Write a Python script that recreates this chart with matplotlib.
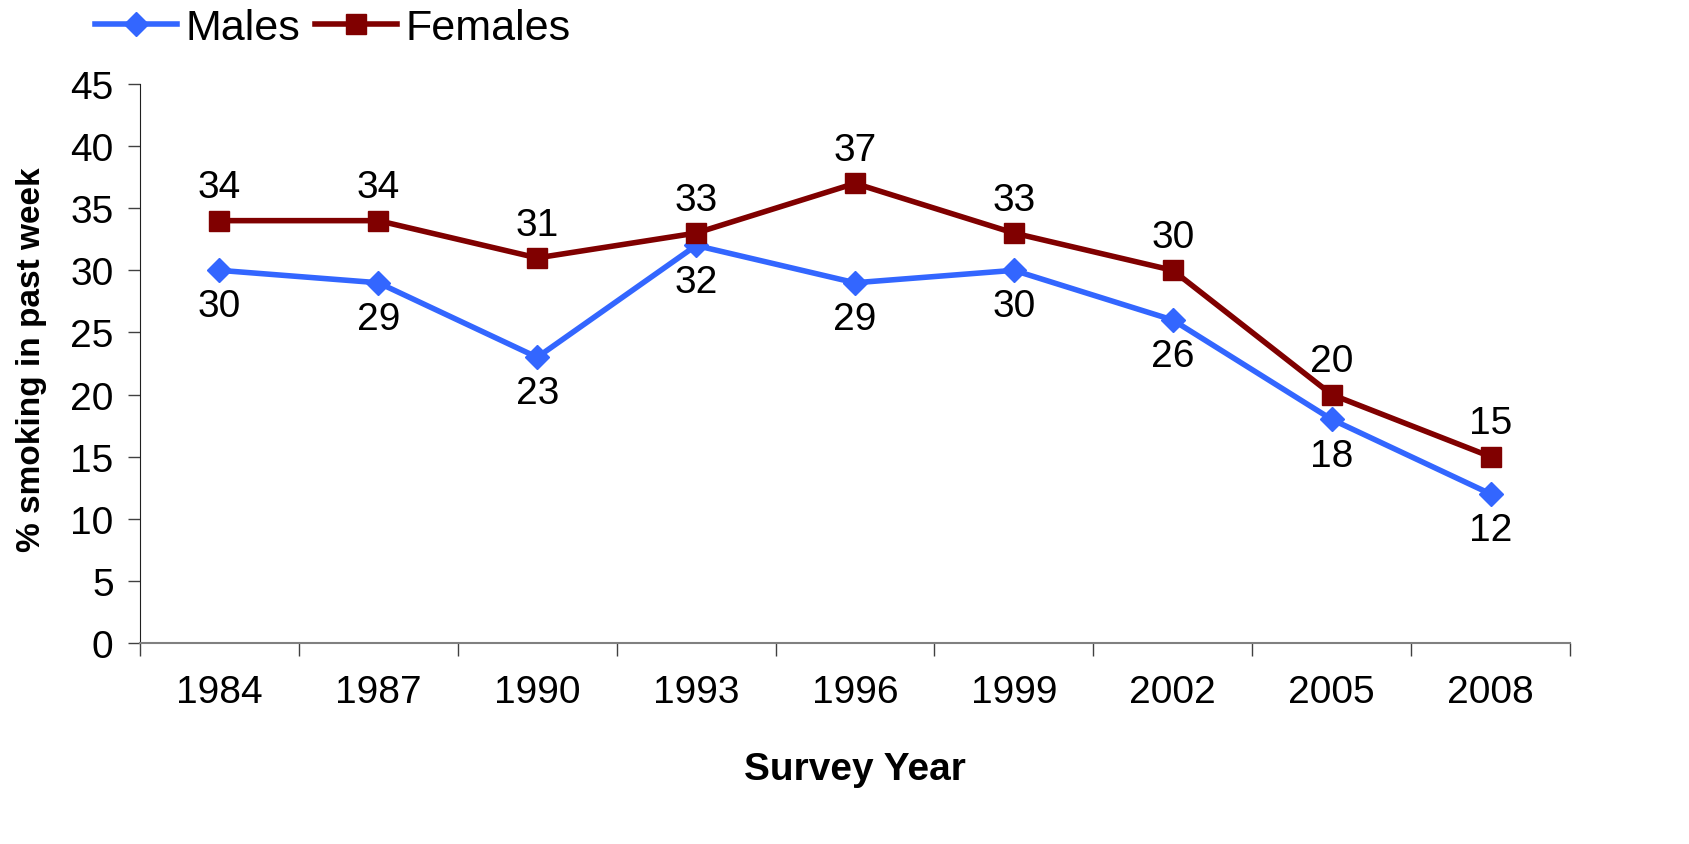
import matplotlib
matplotlib.use("Agg")
import matplotlib.pyplot as plt

years = ["1984", "1987", "1990", "1993", "1996", "1999", "2002", "2005", "2008"]
males = [30, 29, 23, 32, 29, 30, 26, 18, 12]
females = [34, 34, 31, 33, 37, 33, 30, 20, 15]

plt.rcParams['font.family'] = ['Liberation Sans', 'DejaVu Sans']
FS = 28

fig = plt.figure(figsize=(16.9, 8.45), dpi=100)
ax = fig.add_axes([140/1690, 1-644/845, (1570-140)/1690, (644-85)/845])

x = list(range(len(years)))
blue = '#3366FF'
red = '#800000'
lm, = ax.plot(x, males, color=blue, lw=4, marker='D', markersize=12, markeredgecolor=blue, label='Males', zorder=3)
lf, = ax.plot(x, females, color=red, lw=4, marker='s', markersize=15, markeredgecolor=red, label='Females', zorder=3)

for xi, v in zip(x, males):
    ax.annotate(str(v), (xi, v), xytext=(0, -26), textcoords='offset points', ha='center', va='center', fontsize=FS)
for xi, v in zip(x, females):
    ax.annotate(str(v), (xi, v), xytext=(0, 24), textcoords='offset points', ha='center', va='center', fontsize=FS)

ax.set_xlim(-0.5, len(years) - 0.5)
ax.set_ylim(0, 45)
ax.set_yticks(range(0, 46, 5))
ax.set_yticklabels([str(v) for v in range(0, 46, 5)], fontsize=FS)
ax.set_xticks(x)
ax.set_xticklabels(years, fontsize=FS)
ax.set_xticks([i - 0.5 for i in range(len(years) + 1)], minor=True)
ax.tick_params(axis='x', which='major', length=0, pad=22)
ax.tick_params(axis='x', which='minor', length=9, width=1, color='#404040', direction='out')
ax.tick_params(axis='y', length=9, width=1, color='#404040', direction='out', pad=10)
for s in ['top', 'right']:
    ax.spines[s].set_visible(False)
ax.spines['left'].set_color('#202020')
ax.spines['bottom'].set_color('#808080')
ax.spines['bottom'].set_linewidth(1.5)

ax.set_xlabel('Survey Year', fontsize=FS, fontweight='bold', labelpad=30)
fig.text(32/1690, 1-360/845, '% smoking in past week', rotation=90, fontsize=FS-4,
         fontweight='bold', ha='center', va='center')

fig.legend(handles=[lm, lf], loc='center left', bbox_to_anchor=(95/1690, 1-29/845), ncol=2,
           frameon=False, fontsize=31, handlelength=1.9, handletextpad=0.2, columnspacing=0.35,
           borderaxespad=0, borderpad=0)

fig.savefig('out.png', dpi=100)
